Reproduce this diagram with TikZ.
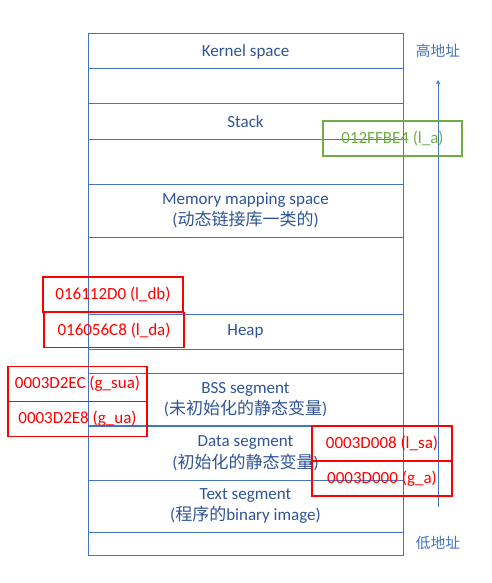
\documentclass[tikz,border=0pt]{standalone}
\usepackage{fontspec}
\setmainfont{Carlito}
\newfontfamily\cjk{Noto Sans CJK SC}
\usepackage{tikz}
\usetikzlibrary{arrows,shapes,positioning}
\definecolor{memblue}{RGB}{68,114,196}
\definecolor{memtext}{RGB}{47,84,150}
\definecolor{addrgreen}{RGB}{112,173,71}
\definecolor{addrred}{RGB}{255,0,0}
\newcommand{\zh}[1]{{\cjk #1}}
\tikzstyle{arrow} = [line width=1pt,->,>=stealth,color=memblue]
\tikzstyle{segment} = [rectangle, draw=memblue, line width=1pt, minimum width=315pt, inner sep=0pt, outer sep=0pt, text=memtext, align=center, font=\fontsize{17}{21.5}\selectfont]
\tikzstyle{address} = [rectangle, draw=addrred, line width=1.2pt, minimum width=140pt, minimum height=35pt, inner sep=0pt, outer sep=0pt, text=addrred, font=\fontsize{17}{21.5}\selectfont]
\tikzstyle{side} = [text=memblue, font=\fontsize{14.7}{17}\selectfont\cjk]

\begin{document}
\begin{tikzpicture}[x=1pt, y=-1pt]
\useasboundingbox (0,0) rectangle (492,583);

% Memory layout, top to bottom
\node (kernel) [segment, minimum height=35pt] at (245.5,51.5) {Kernel space};
\node (gapa) [segment, minimum height=35pt, below=0pt of kernel] {};
\node (stack) [segment, minimum height=35pt, below=0pt of gapa] {Stack};
\node (gapb) [segment, minimum height=45pt, below=0pt of stack] {};
\node (mmap) [segment, minimum height=53pt, below=0pt of gapb] {Memory mapping space\\(\zh{动态链接库一类的})};
\node (gapc) [segment, minimum height=77pt, below=0pt of mmap] {};
\node (heap) [segment, minimum height=35pt, below=0pt of gapc] {Heap};
\node (gapd) [segment, minimum height=24pt, below=0pt of heap] {};
\node (bss) [segment, minimum height=53pt, below=0pt of gapd] {BSS segment\\(\zh{未初始化的静态变量})};
\node (data) [segment, minimum height=54pt, below=0pt of bss] {Data segment\\(\zh{初始化的静态变量})};
\node (text) [segment, minimum height=52pt, below=0pt of data] {Text segment\\(\zh{程序的}binary image)};
\node (gape) [segment, minimum height=23pt, below=0pt of text] {};
\draw[memblue, line width=2pt] (data.north west) -- (data.north east);

% Address direction
\node (high) [side] at (438,51) {高地址};
\node (low) [side] at (438,543) {低地址};
\coordinate (arrowlow) at (438,507);
\coordinate (arrowhigh) at (438,80);
\draw[arrow] (arrowlow) -- (arrowhigh);

% Variable addresses
\node (la) [address, draw=addrgreen, text=addrgreen, minimum width=139pt] at (392.5,138.5) {012FFBE4 (l\_a)};
\node (ldb) [address] at (113,294.5) {016112D0 (l\_db)};
\node (lda) [address] at (114,330) {016056C8 (l\_da)};
\node (gsua) [address, minimum width=139pt] at (77.5,384) {0003D2EC (g\_sua)};
\node (gua) [address, minimum width=139pt, below=0pt of gsua] {0003D2E8 (g\_ua)};
\node (lsa) [address] at (382,443.5) {0003D008 (l\_sa)};
\node (ga) [address, below=0pt of lsa] {0003D000 (g\_a)};
\end{tikzpicture}
\end{document}
